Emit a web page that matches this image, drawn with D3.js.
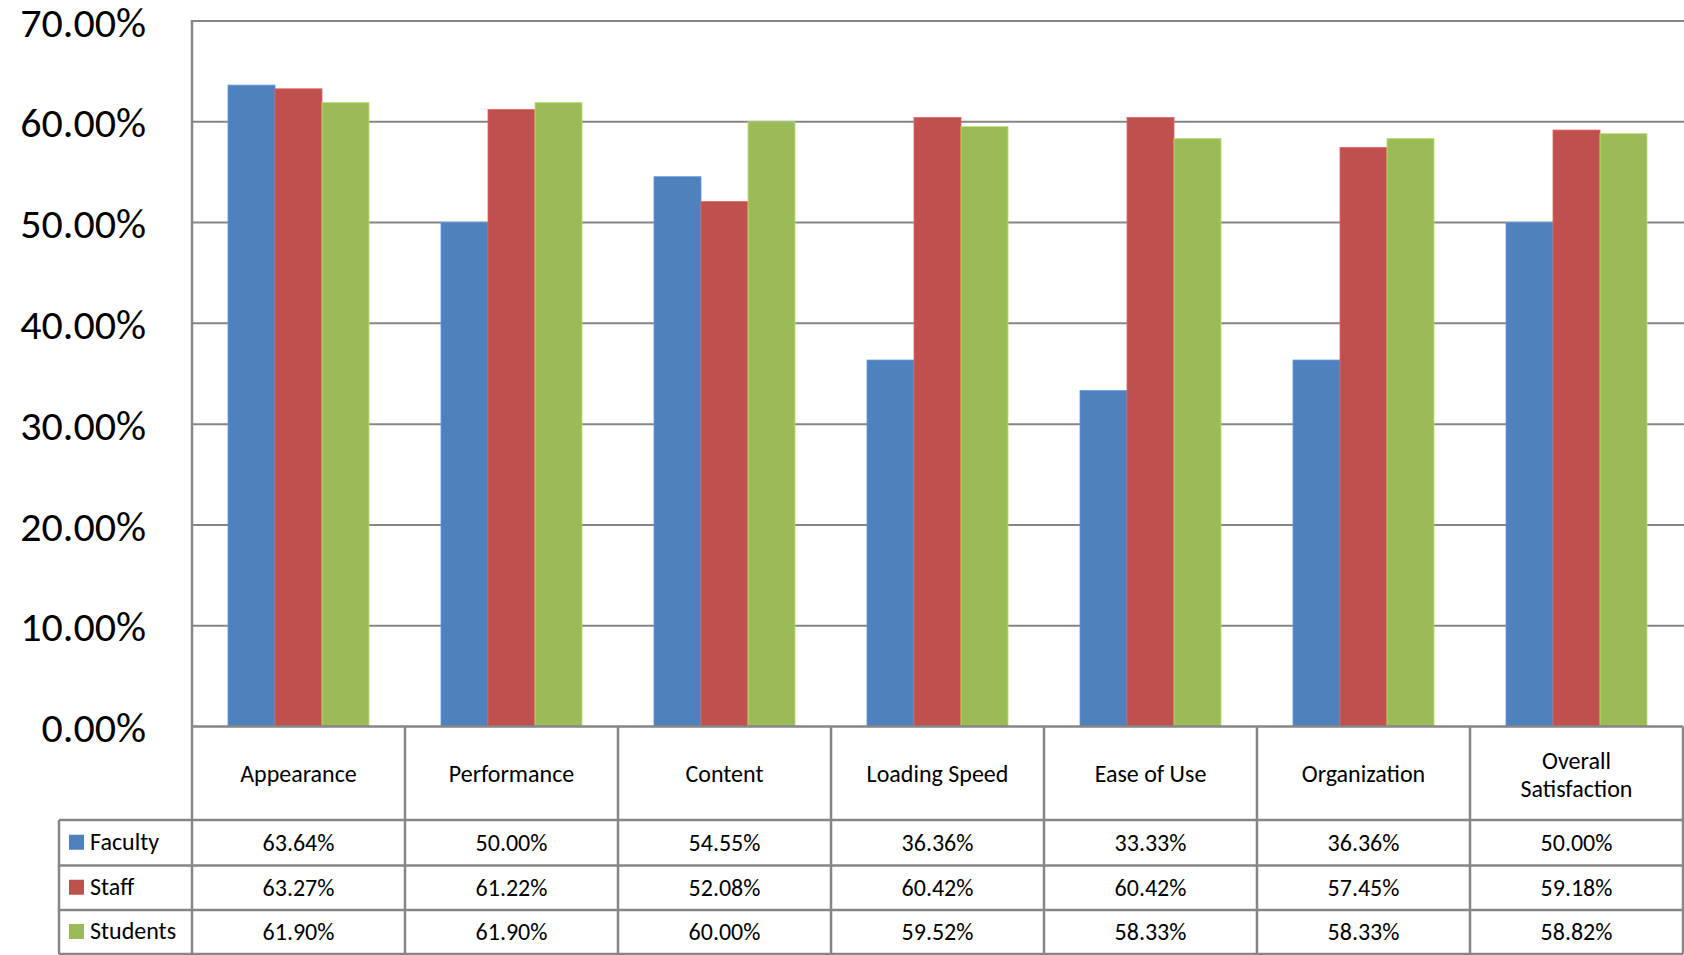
<!DOCTYPE html>
<html><head><meta charset="utf-8">
<script src="https://cdn.jsdelivr.net/npm/d3@7"></script>
<style>
html,body{margin:0;padding:0;background:#fff;}
svg text{font-family:Carlito,Lato,"Liberation Sans",Arial,sans-serif;fill:#000;}
</style></head>
<body><svg id="c" width="1684" height="955"></svg>
<script>
const categories = ["Appearance","Performance","Content","Loading Speed","Ease of Use","Organization","Overall Satisfaction"];
const seriesNames = ["Faculty","Staff","Students"];
const faculty = [0.6364,0.5000,0.5455,0.3636,0.3333,0.3636,0.5000];
const staff = [0.6327,0.6122,0.5208,0.6042,0.6042,0.5745,0.5918];
const students = [0.6190,0.6190,0.6000,0.5952,0.5833,0.5833,0.5882];
const colors = ["#4F81BD","#C0504D","#9BBB59"];
const yTicks = [0,0.1,0.2,0.3,0.4,0.5,0.6,0.7];

(function(){
const values = [faculty, staff, students];
const svg = d3.select("#c");
const pLeft = 192, pRight = 1683, pTop = 21, pBottom = 726.5;
const rowH = [pBottom, 820, 865.5, 910, 954];
const legendLeft = 59;
const gridColor = "#868686";
const FONT = 'Carlito,Lato,"Liberation Sans",Arial,sans-serif';

const x0 = d3.scaleBand().domain(categories).range([pLeft, pRight]).padding(0);
const x1 = d3.scaleBand().domain(seriesNames).range([36, x0.bandwidth()-36]).padding(0);
const y = d3.scaleLinear().domain([0,0.7]).range([pBottom, pTop]);

svg.append("g").selectAll("line").data(yTicks.filter(d=>d>0)).join("line")
  .attr("x1", pLeft).attr("x2", 1684).attr("y1", d=>y(d)).attr("y2", d=>y(d))
  .attr("stroke", gridColor).attr("stroke-width", 2);

const g = svg.append("g");
seriesNames.forEach((s, si) => {
  g.append("g").selectAll("rect").data(categories).join("rect")
    .attr("x", (c) => x0(c) + x1(s))
    .attr("width", x1.bandwidth())
    .attr("y", (c,i) => y(values[si][i]))
    .attr("height", (c,i) => y(0) - y(values[si][i]))
    .attr("fill", colors[si])
    .attr("stroke", d3.color(colors[si]).brighter(0.5))
    .attr("stroke-width", 0.8);
});

const yAxis = d3.axisLeft(y).tickValues(yTicks).tickFormat(d3.format(".2%")).tickSize(0).tickPadding(46);
const ya = svg.append("g").attr("transform", `translate(${pLeft},0)`).call(yAxis);
ya.select(".domain").remove();
ya.selectAll("text").style("font-size","42px").style("font-family",FONT).attr("dy","0.36em");
svg.append("line").attr("x1", pLeft).attr("x2", pLeft).attr("y1", pTop-1).attr("y2", 954)
  .attr("stroke", gridColor).attr("stroke-width", 2.5);

const tbl = svg.append("g").attr("stroke", gridColor).attr("stroke-width", 2.5);
tbl.append("line").attr("x1", pLeft).attr("x2", pRight).attr("y1", pBottom).attr("y2", pBottom);
rowH.slice(1).forEach(h => tbl.append("line").attr("x1", legendLeft).attr("x2", pRight).attr("y1", h).attr("y2", h));
categories.forEach(c => {
  tbl.append("line").attr("x1", x0(c)+x0.bandwidth()).attr("x2", x0(c)+x0.bandwidth()).attr("y1", pBottom).attr("y2", 954);
});
tbl.append("line").attr("x1", legendLeft).attr("x2", legendLeft).attr("y1", 820).attr("y2", 954);

const catG = svg.append("g");
categories.forEach(c => {
  const cx = x0(c) + x0.bandwidth()/2;
  const cy = (rowH[0]+rowH[1])/2;
  const t = catG.append("text").attr("text-anchor","middle").style("font-size","24px");
  if (c === "Overall Satisfaction") {
    t.append("tspan").attr("x", cx).attr("y", cy - 13).attr("dy","0.35em").text("Overall");
    t.append("tspan").attr("x", cx).attr("y", cy + 15).attr("dy","0.35em").text("Satisfaction");
  } else {
    t.attr("x", cx).attr("y", cy).attr("dy","0.35em").text(c);
  }
});

const fmt = d3.format(".2%");
seriesNames.forEach((s, si) => {
  const cy = (rowH[si+1]+rowH[si+2])/2;
  svg.append("rect").attr("x", 69).attr("y", cy-8).attr("width", 15).attr("height", 15).attr("fill", colors[si]);
  svg.append("text").attr("x", 90).attr("y", cy).attr("dy","0.3em").style("font-size","24px").text(s);
  svg.append("g").selectAll("text").data(categories).join("text")
    .attr("x", c => x0(c)+x0.bandwidth()/2).attr("y", cy).attr("dy","0.35em")
    .attr("text-anchor","middle").style("font-size","24px")
    .text((c,i) => fmt(values[si][i]));
});
})();
</script></body></html>
